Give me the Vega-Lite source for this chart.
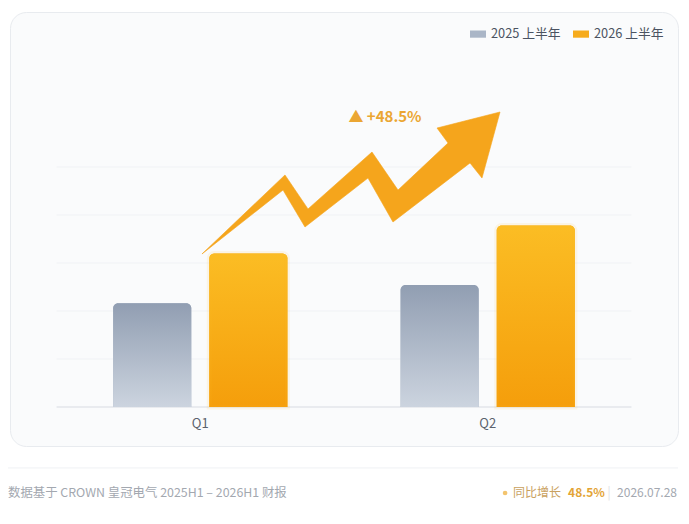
{
  "$schema": "https://vega.github.io/schema/vega-lite/v6.json",
  "width": 668,
  "height": 434,
  "autosize": {"type": "none"},
  "padding": {"left": 10, "top": 12, "right": 11, "bottom": 78},
  "background": "#ffffff",
  "config": {
    "font": "Noto Sans CJK SC",
    "view": {"fill": "#fafbfc", "stroke": "#e8ebef", "strokeWidth": 1, "cornerRadius": 16},
    "axisQuantitative": {"domain": false, "ticks": false, "labels": false, "grid": false}
  },
  "datasets": {
    "sales": [
      {"quarter": "Q1", "period": "2025 上半年", "revenue": 10.8},
      {"quarter": "Q1", "period": "2026 上半年", "revenue": 16.0},
      {"quarter": "Q2", "period": "2025 上半年", "revenue": 12.7},
      {"quarter": "Q2", "period": "2026 上半年", "revenue": 18.9}
    ],
    "grid": [{"level": 5}, {"level": 10}, {"level": 15}, {"level": 20}, {"level": 25}],
    "arrow": [
      {"i": 1, "t": 1.0059, "v": 15.94},
      {"i": 2, "t": 1.2947, "v": 24.17},
      {"i": 3, "t": 1.3748, "v": 20.63},
      {"i": 4, "t": 1.5974, "v": 26.56},
      {"i": 5, "t": 1.6879, "v": 22.60},
      {"i": 6, "t": 1.8619, "v": 27.50},
      {"i": 7, "t": 1.8236, "v": 29.06},
      {"i": 8, "t": 2.0428, "v": 30.73},
      {"i": 9, "t": 1.9801, "v": 23.85},
      {"i": 10, "t": 1.9384, "v": 25.42},
      {"i": 11, "t": 1.6704, "v": 19.27},
      {"i": 12, "t": 1.5834, "v": 23.85},
      {"i": 13, "t": 1.3643, "v": 18.75},
      {"i": 14, "t": 1.2878, "v": 22.60}
    ],
    "badge": [{"label": "▲ +48.5%", "t": 1.6426, "v": 30.21}],
    "footer": [
      {"role": "source", "text": "数据基于 CROWN 皇冠电气 2025H1 – 2026H1 财报", "t": 0.331, "v": -8.96},
      {"role": "dot", "text": "", "t": 2.0604, "v": -8.96},
      {"role": "growth", "text": "同比增长", "t": 2.0882, "v": -8.96},
      {"role": "value", "text": "48.5%", "t": 2.2796, "v": -8.96},
      {"role": "sep", "text": "|", "t": 2.422, "v": -8.96},
      {"role": "date", "text": "2026.07.28", "t": 2.6586, "v": -8.96}
    ]
  },
  "layer": [
    {
      "layer": [
        {
          "data": {"name": "grid"},
          "mark": {"type": "rule", "color": "#f0f2f5", "strokeWidth": 1},
          "encoding": {
            "x": {"datum": 0.5, "type": "quantitative", "title": null, "scale": {"domain": [0.338, 2.662], "nice": false, "zero": false}},
            "x2": {"datum": 2.5},
            "y": {"field": "level", "type": "quantitative", "axis": null}
          }
        },
        {
          "data": {"name": "grid"},
          "transform": [{"filter": "datum.level === 5"}],
          "mark": {"type": "rule", "color": "#e3e6eb", "strokeWidth": 1.5},
          "encoding": {
            "x": {"datum": 0.5, "type": "quantitative", "title": null},
            "x2": {"datum": 2.5},
            "y": {"datum": 0, "type": "quantitative", "axis": null}
          }
        },
        {
          "data": {"name": "grid"},
          "transform": [{"filter": "datum.level === 5"}],
          "mark": {"type": "rule", "color": "#eff1f4", "strokeWidth": 1},
          "encoding": {
            "x": {"datum": 0.331, "type": "quantitative", "title": null},
            "x2": {"datum": 2.662},
            "y": {"datum": -6.35, "type": "quantitative", "axis": null}
          }
        },
        {
          "data": {"name": "arrow"},
          "mark": {"type": "line", "interpolate": "linear-closed", "fill": "#f5a51c", "stroke": "#f5a51c", "strokeWidth": 0.6, "strokeJoin": "round"},
          "encoding": {
            "x": {"field": "t", "type": "quantitative", "title": null},
            "y": {"field": "v", "type": "quantitative", "axis": null},
            "order": {"field": "i", "type": "quantitative"}
          }
        },
        {
          "data": {"name": "badge"},
          "mark": {"type": "text", "fontSize": 15, "fontWeight": "bold", "color": "#eba632", "align": "center", "baseline": "middle"},
          "encoding": {
            "x": {"field": "t", "type": "quantitative", "title": null},
            "y": {"field": "v", "type": "quantitative", "axis": null},
            "text": {"field": "label"}
          }
        },
        {
          "data": {"name": "footer"},
          "transform": [{"filter": "datum.role === 'source'"}],
          "mark": {"type": "text", "fontSize": 12.4, "color": "#a3a8b0", "align": "left", "baseline": "middle"},
          "encoding": {
            "x": {"field": "t", "type": "quantitative", "title": null},
            "y": {"field": "v", "type": "quantitative", "axis": null},
            "text": {"field": "text"}
          }
        },
        {
          "data": {"name": "footer"},
          "transform": [{"filter": "datum.role === 'date'"}],
          "mark": {"type": "text", "fontSize": 12, "color": "#a3a8b0", "align": "right", "baseline": "middle"},
          "encoding": {
            "x": {"field": "t", "type": "quantitative", "title": null},
            "y": {"field": "v", "type": "quantitative", "axis": null},
            "text": {"field": "text"}
          }
        },
        {
          "data": {"name": "footer"},
          "transform": [{"filter": "datum.role === 'dot'"}],
          "mark": {"type": "point", "shape": "circle", "filled": true, "size": 22, "color": "#f3c46e", "opacity": 1},
          "encoding": {
            "x": {"field": "t", "type": "quantitative", "title": null},
            "y": {"field": "v", "type": "quantitative", "axis": null}
          }
        },
        {
          "data": {"name": "footer"},
          "transform": [{"filter": "datum.role === 'growth'"}],
          "mark": {"type": "text", "fontSize": 12, "color": "#c9a160", "align": "left", "baseline": "middle"},
          "encoding": {
            "x": {"field": "t", "type": "quantitative", "title": null},
            "y": {"field": "v", "type": "quantitative", "axis": null},
            "text": {"field": "text"}
          }
        },
        {
          "data": {"name": "footer"},
          "transform": [{"filter": "datum.role === 'value'"}],
          "mark": {"type": "text", "fontSize": 12, "fontWeight": "bold", "color": "#e3a436", "align": "left", "baseline": "middle"},
          "encoding": {
            "x": {"field": "t", "type": "quantitative", "title": null},
            "y": {"field": "v", "type": "quantitative", "axis": null},
            "text": {"field": "text"}
          }
        },
        {
          "data": {"name": "footer"},
          "transform": [{"filter": "datum.role === 'sep'"}],
          "mark": {"type": "text", "fontSize": 13, "color": "#dfe2e6", "align": "center", "baseline": "middle"},
          "encoding": {
            "x": {"field": "t", "type": "quantitative", "title": null},
            "y": {"field": "v", "type": "quantitative", "axis": null},
            "text": {"field": "text"}
          }
        }
      ]
    },
    {
      "data": {"name": "sales"},
      "encoding": {
        "x": {
          "field": "quarter",
          "type": "nominal",
          "scale": {"paddingInner": 0.3937, "paddingOuter": 0.3589},
          "axis": {"orient": "bottom", "title": null, "domain": false, "ticks": false, "grid": false, "labelAngle": 0, "labelPadding": 10, "labelFontSize": 13, "labelColor": "#5b626d", "offset": -39}
        },
        "xOffset": {"field": "period", "type": "nominal", "scale": {"paddingInner": 0.1875, "paddingOuter": 0}},
        "y": {
          "field": "revenue",
          "type": "quantitative",
          "stack": null,
          "axis": null,
          "scale": {"domain": [-4.0625, 41.1458], "nice": false, "zero": false}
        }
      },
      "layer": [
        {
          "mark": {"type": "bar", "cornerRadiusTopLeft": 5, "cornerRadiusTopRight": 5},
          "encoding": {
            "color": {
              "field": "period",
              "type": "nominal",
              "scale": {"domain": ["2025 上半年", "2026 上半年"], "range": ["#aab6c7", "#f6ab1c"]},
              "legend": {
                "title": null,
                "orient": "top-right",
                "direction": "horizontal",
                "offset": 14,
                "symbolType": "M-1,-0.45H1V0.45H-1Z",
                "symbolSize": 256,
                "symbolStrokeWidth": 0,
                "labelFontSize": 12.8,
                "labelColor": "#4b5361",
                "labelOffset": 5,
                "columnPadding": 12
              }
            }
          }
        },
        {
          "transform": [{"filter": "datum.period === '2025 上半年'"}],
          "mark": {
            "type": "bar",
            "cornerRadiusTopLeft": 5,
            "cornerRadiusTopRight": 5,
            "color": {"gradient": "linear", "x1": 0, "y1": 0, "x2": 0, "y2": 1, "stops": [{"offset": 0, "color": "#919eb2"}, {"offset": 1, "color": "#ccd4df"}]}
          }
        },
        {
          "transform": [{"filter": "datum.period === '2026 上半年'"}],
          "mark": {
            "type": "bar",
            "cornerRadiusTopLeft": 5,
            "cornerRadiusTopRight": 5,
            "stroke": "#fbbf24",
            "strokeOpacity": 0.1,
            "strokeWidth": 5,
            "color": {"gradient": "linear", "x1": 0, "y1": 0, "x2": 0, "y2": 1, "stops": [{"offset": 0, "color": "#fbbd24"}, {"offset": 1, "color": "#f59e0b"}]}
          }
        }
      ]
    }
  ],
  "resolve": {"scale": {"x": "independent"}}
}
